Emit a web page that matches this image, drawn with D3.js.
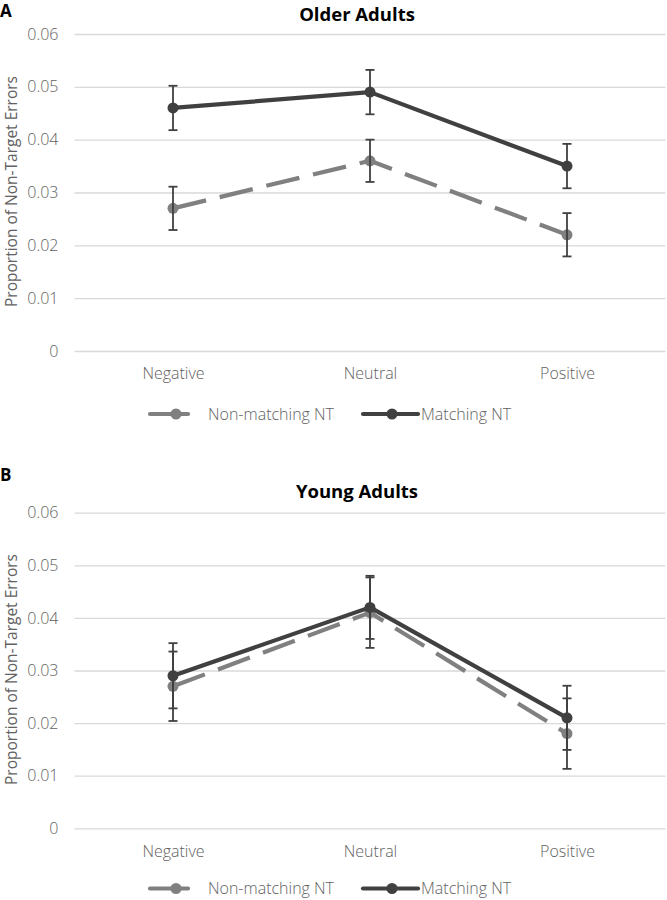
<!DOCTYPE html>
<html>
<head>
<meta charset="utf-8">
<script src="https://cdn.jsdelivr.net/npm/d3@7"></script>
<style>
  html, body { margin: 0; padding: 0; background: #ffffff; }
  svg { display: block; }
  text { font-family: "Open Sans", "Noto Sans", sans-serif; }
</style>
</head>
<body>
<script>
const categories = ["Negative", "Neutral", "Positive"];
const seriesNames = ["Non-matching NT", "Matching NT"];
const yTicks = [0, 0.01, 0.02, 0.03, 0.04, 0.05, 0.06];
const yTickLabels = ["0", "0.01", "0.02", "0.03", "0.04", "0.05", "0.06"];

// Panel A: Older Adults
const olderNonMatching = [0.027, 0.036, 0.022];
const olderNonMatchingErr = [0.0041, 0.0040, 0.0041];
const olderMatching = [0.046, 0.049, 0.035];
const olderMatchingErr = [0.0042, 0.0042, 0.0042];

// Panel B: Young Adults
const youngNonMatching = [0.027, 0.041, 0.018];
const youngNonMatchingErr = [0.0066, 0.0067, 0.0067];
const youngMatching = [0.029, 0.042, 0.021];
const youngMatchingErr = [0.0062, 0.0060, 0.0061];

const W = 667, H = 900;
const svg = d3.select("body").append("svg").attr("width", W).attr("height", H);

const colors = ["#808080", "#404040"];
const dashes = ["34,14", null];
const errColor = "#404040";
const labelColor = "#626262";

function drawPanel(opts) {
  const g = svg.append("g");
  const x = d3.scalePoint().domain(categories).range([74.5, 665.5]).padding(0.5);
  const y = d3.scaleLinear().domain([0, 0.06]).range([opts.y0, opts.y1]);

  // panel letter
  g.append("text").attr("x", 0).attr("y", opts.letterY)
    .attr("font-size", 17).attr("font-weight", 700).attr("fill", "#000")
    .text(opts.letter);

  // title
  g.append("text").attr("x", 357).attr("y", opts.titleY)
    .attr("text-anchor", "middle").attr("font-size", 18.5).attr("font-weight", 700)
    .attr("fill", "#000").text(opts.title);

  // y axis with gridlines
  const yAxis = d3.axisLeft(y).tickValues(yTicks)
    .tickFormat((d, i) => yTickLabels[i])
    .tickSize(-591).tickPadding(16);
  const ya = g.append("g").attr("transform", "translate(74.5,0)").call(yAxis);
  ya.select(".domain").remove();
  ya.selectAll(".tick line").attr("stroke", "#d9d9d9").attr("stroke-width", 1.3);
  ya.selectAll(".tick text").attr("fill", labelColor).attr("font-size", 16)
    .attr("font-weight", 300).attr("font-family", "'Open Sans', sans-serif");

  // x axis labels
  const xAxis = d3.axisBottom(x).tickSize(0).tickPadding(17);
  const xa = g.append("g").attr("transform", `translate(0,${opts.y0})`).call(xAxis);
  xa.select(".domain").remove();
  xa.selectAll(".tick text").attr("fill", labelColor).attr("font-size", 16)
    .attr("font-weight", 300).attr("font-family", "'Open Sans', sans-serif");

  // y label
  g.append("text")
    .attr("transform", `translate(17,${(opts.y0 + opts.y1) / 2 - 1}) rotate(-90)`)
    .attr("text-anchor", "middle").attr("font-size", 15.5).attr("fill", labelColor)
    .text("Proportion of Non-Target Errors");

  const series = [
    { vals: opts.nonMatching, err: opts.nonMatchingErr },
    { vals: opts.matching, err: opts.matchingErr }
  ];
  const line = d3.line().x((d, i) => x(categories[i])).y(d => y(d));

  series.forEach((s, si) => {
    g.append("path").datum(s.vals).attr("d", line)
      .attr("fill", "none").attr("stroke", colors[si]).attr("stroke-width", 4.2)
      .attr("stroke-dasharray", dashes[si]).attr("stroke-linejoin", "round");
    g.selectAll(null).data(s.vals).enter().append("circle")
      .attr("cx", (d, i) => x(categories[i])).attr("cy", d => y(d))
      .attr("r", 5.5).attr("fill", colors[si]);
    const eb = g.selectAll(null).data(s.vals).enter().append("g")
      .attr("stroke", errColor).attr("stroke-width", 1.8);
    eb.append("line")
      .attr("x1", (d, i) => x(categories[i])).attr("x2", (d, i) => x(categories[i]))
      .attr("y1", (d, i) => y(d + s.err[i])).attr("y2", (d, i) => y(d - s.err[i]));
    eb.append("line")
      .attr("x1", (d, i) => x(categories[i]) - 4.5).attr("x2", (d, i) => x(categories[i]) + 4.5)
      .attr("y1", (d, i) => y(d + s.err[i])).attr("y2", (d, i) => y(d + s.err[i]));
    eb.append("line")
      .attr("x1", (d, i) => x(categories[i]) - 4.5).attr("x2", (d, i) => x(categories[i]) + 4.5)
      .attr("y1", (d, i) => y(d - s.err[i])).attr("y2", (d, i) => y(d - s.err[i]));
  });

  // legend
  const lg = g.append("g").attr("transform", `translate(0,${opts.legendY})`);
  const legendItems = [
    { x1: 150, x2: 188, mx: 176, tx: 208 },
    { x1: 363, x2: 418, mx: 392, tx: 421 }
  ];
  legendItems.forEach((it, si) => {
    lg.append("line").attr("x1", it.x1).attr("x2", it.x2).attr("y1", 0).attr("y2", 0)
      .attr("stroke", colors[si]).attr("stroke-width", 4.2).attr("stroke-linecap", "round");
    lg.append("circle").attr("cx", it.mx).attr("cy", 0).attr("r", 5.5).attr("fill", colors[si]);
    lg.append("text").attr("x", it.tx).attr("y", 0).attr("dy", "0.35em")
      .attr("font-size", 16).attr("font-weight", 300).attr("fill", labelColor)
      .text(seriesNames[si]);
  });
}

drawPanel({
  letter: "A", letterY: 17, title: "Older Adults", titleY: 21,
  y0: 351, y1: 34, legendY: 414,
  nonMatching: olderNonMatching, nonMatchingErr: olderNonMatchingErr,
  matching: olderMatching, matchingErr: olderMatchingErr
});

drawPanel({
  letter: "B", letterY: 481, title: "Young Adults", titleY: 498,
  y0: 828.3, y1: 512.7, legendY: 888.5,
  nonMatching: youngNonMatching, nonMatchingErr: youngNonMatchingErr,
  matching: youngMatching, matchingErr: youngMatchingErr
});
</script>
</body>
</html>
